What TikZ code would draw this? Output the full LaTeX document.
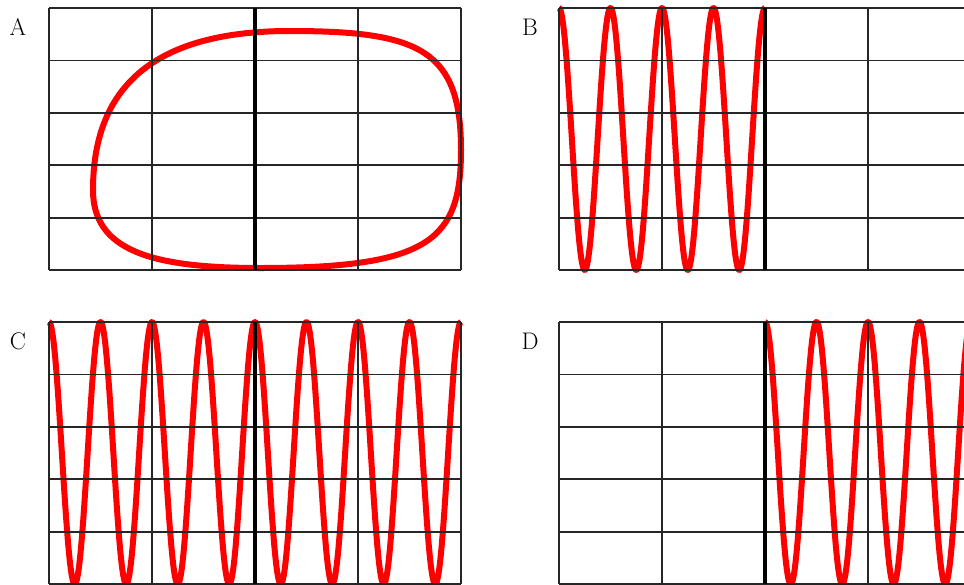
\documentclass[tikz,border=0pt]{standalone}
\usepackage{tikz}
\tikzset{
  gridline/.style={line width=1.8pt, black!85},
  midline/.style={line width=3.4pt, black},
  trace/.style={line width=6pt, red, line join=round},
  paneltag/.style={font=\fontsize{24}{24}\selectfont, inner sep=0pt, anchor=center}
}
\newcommand{\osgrid}[2]{%
  \foreach \k in {0,1,2,3,4,5} {\draw[gridline] (#1,{#2+52.4*\k}) -- ({#1+412},{#2+52.4*\k});}
  \foreach \k in {0,1,3,4} {\draw[gridline] ({#1+103*\k},#2) -- ({#1+103*\k},{#2+262});}
  \draw[midline] ({#1+206},#2) -- ({#1+206},{#2+262});
}
\begin{document}
\begin{tikzpicture}[x=1pt,y=-1pt]
\useasboundingbox (0,0) rectangle (964,584);
\fill[white] (0,0) rectangle (964,584);
% labels
\node[paneltag] (labA) at (18,27) {A};
\node[paneltag] (labB) at (530,27) {B};
\node[paneltag] (labC) at (18,341) {C};
\node[paneltag] (labD) at (530,341) {D};
% panel A loop
\draw[trace] (93,190) .. controls (93,90) and (150,31) .. (290,31)
  .. controls (420,31) and (461,50) .. (461,150)
  .. controls (461,240) and (430,268) .. (260,268)
  .. controls (150,268) and (93,250) .. (93,190) -- cycle;
% panel B
\draw[trace] plot[domain=0:206, samples=400, smooth] ({559+\x},{139-131*cos(6.99029*\x)});
% panel C
\draw[trace] plot[domain=0:412, samples=700, smooth] ({49+\x},{453-131*cos(6.99029*\x)});
% panel D
\draw[trace] plot[domain=0:206, samples=400, smooth] ({765+\x},{453-131*cos(6.99029*\x)});
% grids
\osgrid{49}{8}
\osgrid{559}{8}
\osgrid{49}{322}
\osgrid{559}{322}
\end{tikzpicture}
\end{document}
